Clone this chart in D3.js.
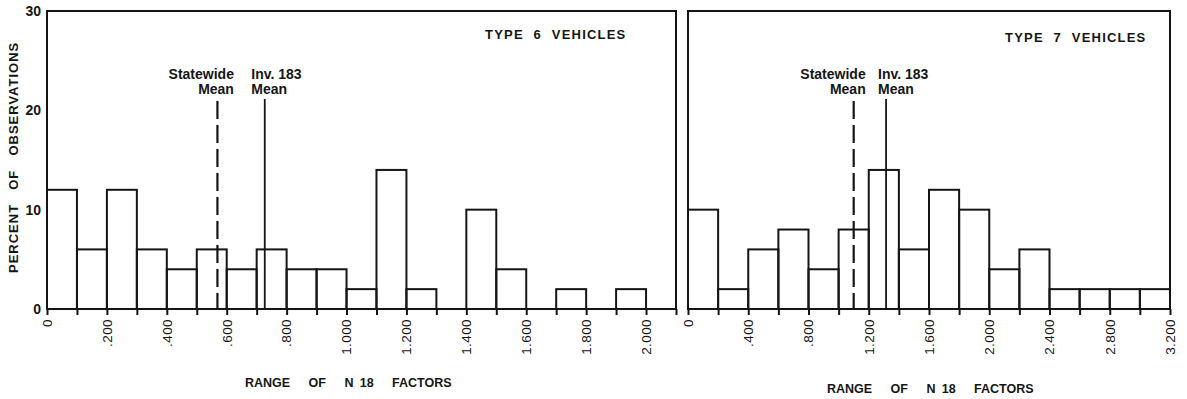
<!DOCTYPE html>
<html>
<head>
<meta charset="utf-8">
<script src="https://cdn.jsdelivr.net/npm/d3@7"></script>
<style>
    body { margin: 0; background: #fff; }
    svg text { font-family: "Liberation Sans", Arial, sans-serif; fill: #151515; }
</style>
</head>
<body>
<svg id="chart" width="1187" height="399"></svg>
<script>
// Type 6 vehicles - bins of width .100
const type6BinStart = [0, 0.1, 0.2, 0.3, 0.4, 0.5, 0.6, 0.7, 0.8, 0.9, 1.0,
                       1.1, 1.2, 1.3, 1.4, 1.5, 1.6, 1.7, 1.8, 1.9, 2.0];
const type6Percent  = [12, 6, 12, 6, 4, 6, 4, 6, 4, 4, 2,
                       14, 2, 0, 10, 4, 0, 2, 0, 2, 0];
const type6TickValues = [0, 0.2, 0.4, 0.6, 0.8, 1.0, 1.2, 1.4, 1.6, 1.8, 2.0];
const type6TickLabels = ['0', '.200', '.400', '.600', '.800', '1.000',
                         '1.200', '1.400', '1.600', '1.800', '2.000'];
const type6Means = { statewide: 0.569, inv183: 0.727 };

// Type 7 vehicles - bins of width .200
const type7BinStart = [0, 0.2, 0.4, 0.6, 0.8, 1.0, 1.2, 1.4,
                       1.6, 1.8, 2.0, 2.2, 2.4, 2.6, 2.8, 3.0];
const type7Percent  = [10, 2, 6, 8, 4, 8, 14, 6,
                       12, 10, 4, 6, 2, 2, 2, 2];
const type7TickValues = [0, 0.4, 0.8, 1.2, 1.6, 2.0, 2.4, 2.8, 3.2];
const type7TickLabels = ['0', '.400', '.800', '1.200', '1.600',
                         '2.000', '2.400', '2.800', '3.200'];
const type7Means = { statewide: 1.10, inv183: 1.315 };

const yTicks = [0, 10, 20, 30];

const svg = d3.select('#chart');
const plotTop = 11, plotBottom = 309;

const y = d3.scaleLinear().domain([0, 30]).range([plotBottom, plotTop]);

function drawPanel(cfg) {
    const x = d3.scaleLinear().domain([0, cfg.xMax]).range([cfg.left, cfg.right]);
    const g = svg.append('g');

    // frame
    g.append('rect')
        .attr('x', cfg.left).attr('y', plotTop)
        .attr('width', cfg.right - cfg.left).attr('height', plotBottom - plotTop)
        .attr('fill', 'none').attr('stroke', '#151515').attr('stroke-width', 2);

    // histogram bars
    g.selectAll('rect.bar')
        .data(cfg.starts.map((s, i) => ({ s, v: cfg.values[i] })).filter(d => d.v > 0))
        .join('rect')
        .attr('class', 'bar')
        .attr('x', d => x(d.s))
        .attr('y', d => y(d.v))
        .attr('width', d => x(d.s + cfg.binWidth) - x(d.s))
        .attr('height', d => y(0) - y(d.v))
        .attr('fill', 'none')
        .attr('stroke', '#151515')
        .attr('stroke-width', 2);

    // x axis: ticks at every bin edge, labels from the label list
    const edges = cfg.starts.concat([cfg.xMax]);
    const xAxis = d3.axisBottom(x).tickValues(edges).tickSize(6).tickFormat('');
    const ax = g.append('g').attr('transform', `translate(0,${plotBottom})`).call(xAxis);
    ax.select('.domain').remove();
    ax.selectAll('line').attr('stroke', '#151515').attr('stroke-width', 2);

    g.selectAll('text.xlab')
        .data(cfg.tickValues)
        .join('text')
        .attr('class', 'xlab')
        .attr('transform', d => `translate(${x(d) + 4.8},319) rotate(-90)`)
        .attr('text-anchor', 'end')
        .attr('font-size', 13.5)
        .attr('letter-spacing', 0.4)
        .text((d, i) => cfg.tickLabels[i]);

    // mean lines
    g.append('line')
        .attr('x1', x(cfg.means.statewide)).attr('x2', x(cfg.means.statewide))
        .attr('y1', 101).attr('y2', plotBottom)
        .attr('stroke', '#151515').attr('stroke-width', 2.2)
        .attr('stroke-dasharray', '18,6');
    g.append('line')
        .attr('x1', x(cfg.means.inv183)).attr('x2', x(cfg.means.inv183))
        .attr('y1', 99).attr('y2', plotBottom)
        .attr('stroke', '#151515').attr('stroke-width', 1.8);

    const sx = x(cfg.means.statewide) + cfg.stateDx;
    const ix = x(cfg.means.inv183) + cfg.invDx;
    const lab = g.append('g').attr('font-size', 14).attr('font-weight', 'bold');
    lab.append('text').attr('x', sx).attr('y', cfg.labY).attr('text-anchor', 'end').text('Statewide');
    lab.append('text').attr('x', sx).attr('y', cfg.labY + 15).attr('text-anchor', 'end').text('Mean');
    lab.append('text').attr('x', ix).attr('y', cfg.labY).text('Inv. 183');
    lab.append('text').attr('x', ix).attr('y', cfg.labY + 15).text('Mean');

    // panel title
    g.append('text')
        .attr('x', cfg.titleX).attr('y', cfg.titleY)
        .attr('font-size', 13).attr('font-weight', 'bold')
        .attr('letter-spacing', 1.2).attr('word-spacing', 5)
        .text(cfg.title);

    // x axis title (en space inside "N 18" so word-spacing skips it)
    g.append('text')
        .attr('x', cfg.xTitleX).attr('y', cfg.xTitleY)
        .attr('font-size', 12.5).attr('font-weight', 'bold')
        .attr('word-spacing', 15)
        .text('RANGE OF N\u200218 FACTORS');
}

drawPanel({
    left: 47, right: 676, xMax: 2.1, binWidth: 0.1,
    starts: type6BinStart, values: type6Percent,
    tickValues: type6TickValues, tickLabels: type6TickLabels,
    means: type6Means, stateDx: 16.5, invDx: -13.5, labY: 79,
    title: 'TYPE 6 VEHICLES', titleX: 485, titleY: 39,
    xTitleX: 245, xTitleY: 387
});

drawPanel({
    left: 688, right: 1170, xMax: 3.2, binWidth: 0.2,
    starts: type7BinStart, values: type7Percent,
    tickValues: type7TickValues, tickLabels: type7TickLabels,
    means: type7Means, stateDx: 12, invDx: -8, labY: 79,
    title: 'TYPE 7 VEHICLES', titleX: 1005, titleY: 42,
    xTitleX: 827, xTitleY: 393
});

// y axis labels (left panel only)
svg.append('g')
    .selectAll('text')
    .data(yTicks)
    .join('text')
    .attr('x', 41)
    .attr('y', d => y(d) + 5)
    .attr('text-anchor', 'end')
    .attr('font-size', 14).attr('font-weight', 'bold')
    .text(d => d);

svg.append('text')
    .attr('transform', 'translate(18,273) rotate(-90)')
    .attr('font-size', 13).attr('font-weight', 'bold')
    .attr('letter-spacing', 1).attr('word-spacing', 9.5)
    .text('PERCENT OF OBSERVATIONS');
</script>
</body>
</html>
